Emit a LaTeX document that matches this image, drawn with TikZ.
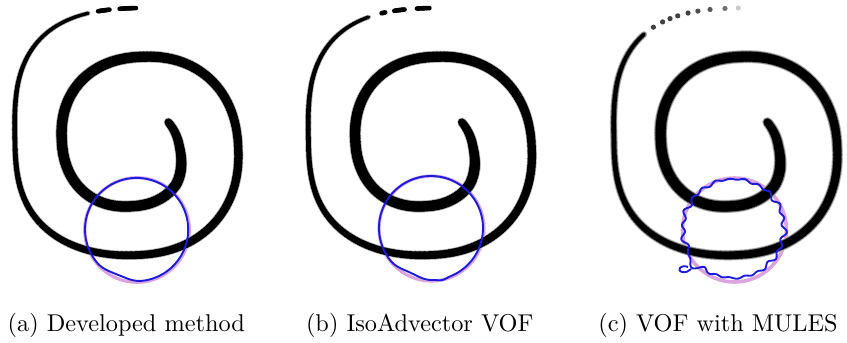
\documentclass[tikz,border=0pt]{standalone}
\usepackage{graphicx}
\definecolor{bluel}{RGB}{28,28,225}
\definecolor{pinkl}{RGB}{218,165,222}
\tikzset{
  declare function={
    clampo(\x)=min(1,max(0,\x));
    spe(\t)=0.9-0.2*clampo((\t-450)/110);
    spx(\t)=134.75+0.0097*\t+(49.25+0.1403*\t)*cos(\t)*pow(abs(cos(\t))+0.0001,spe(\t)-1)-8*max(0,1-(\t+25)/70);
    spy(\t)=143.75+(50+0.1361*\t)*sin(\t)*pow(abs(sin(\t))+0.0001,spe(\t)-1);
    wd(\t)=min(10.5,8+(\t+25)*0.05)-2*clampo((\t-270)/90)-0.5*clampo((\t-360)/90)-3*clampo((\t-450)/90)-1.4*clampo((\t-540)/70);
    bump(\p,\c,\h)=cos(min(90,abs(\p-\c)/\h*90))^2;
    wamp(\p)=0.5+1.6*abs(cos(\p));
  },
  spline/.style={line cap=round},
  bluecurve/.style={draw=bluel, line width=1.9pt, line join=round},
  pinkring/.style={draw=pinkl, line width=3.2pt},
  captionnode/.style={anchor=base, inner sep=0pt},
}
\newcommand\spiralrun[5]{%
  \pgfmathsetmacro\spstep{#2-#1}%
  \foreach \t in {#1,#2,...,#3}{%
    \pgfmathsetmacro\lw{max(0.6,wd(\t)+#4)}%
    \draw[spline, draw=#5, line width=\lw pt] ({spx(\t)},{spy(\t)}) -- ({spx(\t+\spstep)},{spy(\t+\spstep)});
  }%
}
\begin{document}
\begin{tikzpicture}[x=1pt,y=-1pt]
\useasboundingbox (0,0) rectangle (847,343);

% ---------- panel (a)
\draw[pinkring] (137,230) circle (52.3);
\spiralrun{-25}{-23}{614}{1.3}{black!30}
\spiralrun{-25}{-23}{614}{-0.2}{black}
\spiralrun{619}{619.5}{622.5}{1.0}{black}
\spiralrun{626}{626.5}{629}{1.0}{black}
\draw[bluecurve] plot[domain=0:360, samples=181, variable=\p]
  ({136.6+(51.6-2.6*bump(\p,112,28))*cos(\p)},
   {229.5+(51.6-2.6*bump(\p,112,28))*sin(\p)}) -- cycle;

% ---------- panel (b)
\begin{scope}[shift={(293.5,0)}]
\draw[pinkring] (138,228.5) circle (52.5);
\spiralrun{-25}{-23}{607}{1.3}{black!30}
\spiralrun{-25}{-23}{607}{-0.2}{black}
\spiralrun{615}{615.5}{616}{1.0}{black}
\spiralrun{620}{620.5}{623}{1.0}{black}
\spiralrun{627}{627.5}{629}{1.0}{black}
\draw[bluecurve] plot[domain=0:360, samples=181, variable=\p]
  ({137.5+(52-2.8*bump(\p,115,26)+1.2*bump(\p,78,10))*cos(\p)},
   {228+(52-2.8*bump(\p,115,26)+1.2*bump(\p,78,10))*sin(\p)}) -- cycle;
\end{scope}

% ---------- panel (c)
\begin{scope}[shift={(599,0)}]
\draw[pinkring, line width=3.6pt] (135.5,230) circle (52);
\spiralrun{-25}{-23}{590}{2.6}{black!22}
\spiralrun{-25}{-23}{590}{1.2}{black!55}
\spiralrun{-25}{-23}{590}{-0.4}{black}
\foreach \t/\c in {597.5/75,603/75,607/75,610.8/75,615.4/75,619.3/70,623.5/65,627.6/55,629.9/20}{
  \fill[black!\c] ({spx(\t)},{spy(\t)}) circle (2.6);
}
\end{scope}
\draw[bluecurve] plot[domain=0:360, samples=241, variable=\p]
  ({733.5+(50.5+wamp(\p)*(sin(22*\p)+0.45*sin(13*\p+40))+6*bump(\p,138,14))*cos(\p)},
   {228.5+(49.5+wamp(\p)*(sin(22*\p)+0.45*sin(13*\p+40))+6*bump(\p,138,14))*sin(\p)}) -- cycle;
\draw[bluecurve] (688,267) .. controls (681,264) and (676,270) .. (682,272) .. controls (686,273) and (689,271) .. (691,269);

% ---------- captions
\node[captionnode] (capa) at (126.3,331.5) {\scalebox{2.43}{(a) Developed method}};
\node[captionnode] (capb) at (419.7,331.5) {\scalebox{2.43}{(b) IsoAdvector VOF}};
\node[captionnode] (capc) at (718,331.5) {\scalebox{2.43}{(c) VOF with MULES}};
\end{tikzpicture}
\end{document}
